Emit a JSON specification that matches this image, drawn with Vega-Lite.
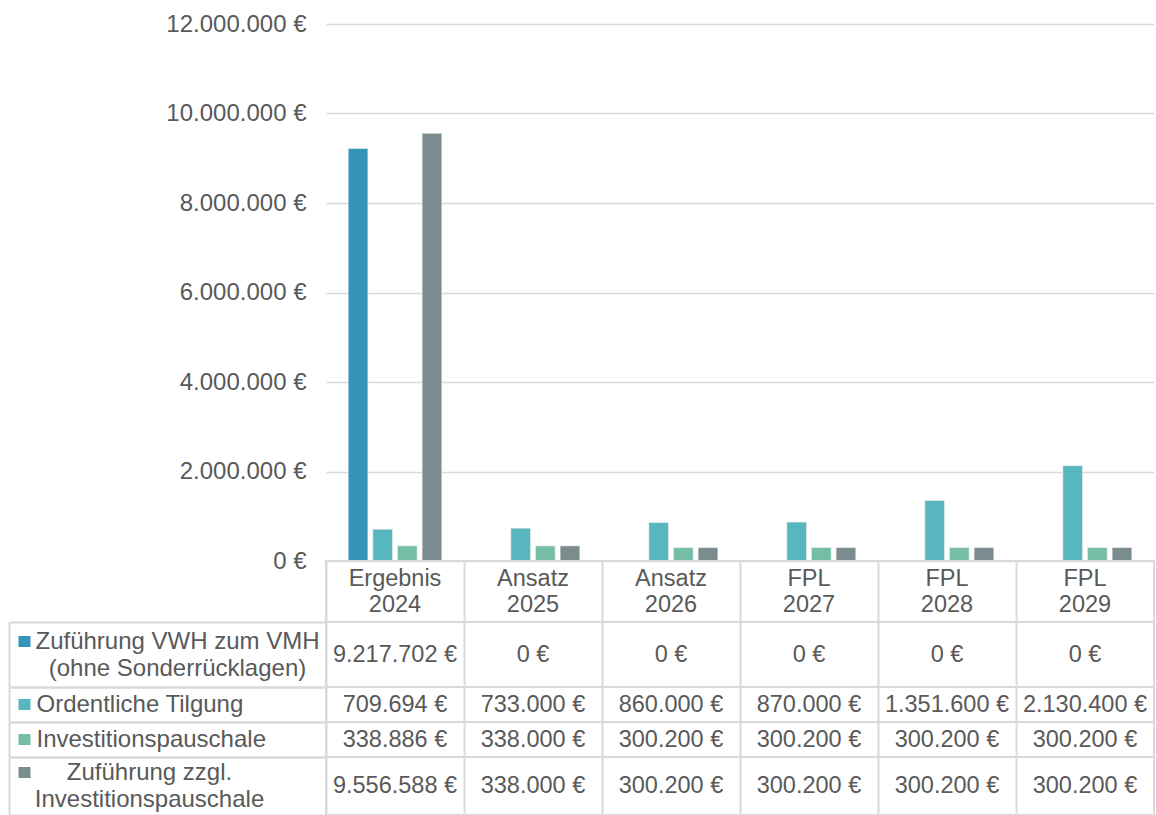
{
  "$schema": "https://vega.github.io/schema/vega-lite/v6.json",
  "padding": {"left": 2, "top": 12, "right": 0, "bottom": 0},
  "bounds": "flush",
  "spacing": 0,
  "data": {"values": [
    {"cat": "Ergebnis 2024", "series": "Zuführung VWH zum VMH (ohne Sonderrücklagen)", "value": 9217702},
    {"cat": "Ansatz 2025", "series": "Zuführung VWH zum VMH (ohne Sonderrücklagen)", "value": 0},
    {"cat": "Ansatz 2026", "series": "Zuführung VWH zum VMH (ohne Sonderrücklagen)", "value": 0},
    {"cat": "FPL 2027", "series": "Zuführung VWH zum VMH (ohne Sonderrücklagen)", "value": 0},
    {"cat": "FPL 2028", "series": "Zuführung VWH zum VMH (ohne Sonderrücklagen)", "value": 0},
    {"cat": "FPL 2029", "series": "Zuführung VWH zum VMH (ohne Sonderrücklagen)", "value": 0},
    {"cat": "Ergebnis 2024", "series": "Ordentliche Tilgung", "value": 709694},
    {"cat": "Ansatz 2025", "series": "Ordentliche Tilgung", "value": 733000},
    {"cat": "Ansatz 2026", "series": "Ordentliche Tilgung", "value": 860000},
    {"cat": "FPL 2027", "series": "Ordentliche Tilgung", "value": 870000},
    {"cat": "FPL 2028", "series": "Ordentliche Tilgung", "value": 1351600},
    {"cat": "FPL 2029", "series": "Ordentliche Tilgung", "value": 2130400},
    {"cat": "Ergebnis 2024", "series": "Investitionspauschale", "value": 338886},
    {"cat": "Ansatz 2025", "series": "Investitionspauschale", "value": 338000},
    {"cat": "Ansatz 2026", "series": "Investitionspauschale", "value": 300200},
    {"cat": "FPL 2027", "series": "Investitionspauschale", "value": 300200},
    {"cat": "FPL 2028", "series": "Investitionspauschale", "value": 300200},
    {"cat": "FPL 2029", "series": "Investitionspauschale", "value": 300200},
    {"cat": "Ergebnis 2024", "series": "Zuführung zzgl. Investitionspauschale", "value": 9556588},
    {"cat": "Ansatz 2025", "series": "Zuführung zzgl. Investitionspauschale", "value": 338000},
    {"cat": "Ansatz 2026", "series": "Zuführung zzgl. Investitionspauschale", "value": 300200},
    {"cat": "FPL 2027", "series": "Zuführung zzgl. Investitionspauschale", "value": 300200},
    {"cat": "FPL 2028", "series": "Zuführung zzgl. Investitionspauschale", "value": 300200},
    {"cat": "FPL 2029", "series": "Zuführung zzgl. Investitionspauschale", "value": 300200}
  ]},
  "vconcat": [
    {
      "width": 828, "height": 537,
      "view": {"stroke": null},
      "mark": {"type": "bar", "stroke": "#f2f2f2", "strokeWidth": 0.6},
      "encoding": {
        "x": {"field": "cat", "type": "nominal", "sort": ["Ergebnis 2024", "Ansatz 2025", "Ansatz 2026", "FPL 2027", "FPL 2028", "FPL 2029"], "scale": {"paddingInner": 0, "paddingOuter": 0}, "axis": null},
        "xOffset": {"field": "series", "type": "nominal", "sort": ["Zuführung VWH zum VMH (ohne Sonderrücklagen)", "Ordentliche Tilgung", "Investitionspauschale", "Zuführung zzgl. Investitionspauschale"], "scale": {"paddingInner": 0.2, "paddingOuter": 0.9}},
        "y": {"field": "value", "type": "quantitative", "scale": {"domain": [0, 12000000]}, "axis": {"title": null, "values": [0, 2000000, 4000000, 6000000, 8000000, 10000000, 12000000], "format": "$,.0f", "grid": true, "gridColor": "#d9d9d9", "gridWidth": 1.5, "domain": false, "ticks": false, "labelPadding": 20}},
        "color": {"field": "series", "type": "nominal", "scale": {"domain": ["Zuführung VWH zum VMH (ohne Sonderrücklagen)", "Ordentliche Tilgung", "Investitionspauschale", "Zuführung zzgl. Investitionspauschale"], "range": ["#3494BA", "#58B6C0", "#75BDA7", "#7A8C8E"]}, "legend": null}
      }
    },
    {
      "width": 828, "height": 61,
      "transform": [{"filter": {"field": "series", "equal": "Ordentliche Tilgung"}}],
      "mark": {"type": "text", "lineBreak": " ", "lineHeight": 26, "dy": -13},
      "encoding": {
        "x": {"field": "cat", "type": "nominal", "sort": ["Ergebnis 2024", "Ansatz 2025", "Ansatz 2026", "FPL 2027", "FPL 2028", "FPL 2029"], "scale": {"paddingInner": 0, "paddingOuter": 0}, "axis": {"title": null, "grid": true, "tickBand": "extent", "gridColor": "#d9d9d9", "gridWidth": 2, "labels": false, "ticks": false, "domain": false}},
        "text": {"field": "cat", "type": "nominal"}
      }
    },
    {
      "width": 828, "height": 65,
      "transform": [{"filter": {"field": "series", "equal": "Zuführung VWH zum VMH (ohne Sonderrücklagen)"}}],
      "layer": [
        {
          "mark": {"type": "text"},
          "encoding": {
            "x": {"field": "cat", "type": "nominal", "sort": ["Ergebnis 2024", "Ansatz 2025", "Ansatz 2026", "FPL 2027", "FPL 2028", "FPL 2029"], "scale": {"paddingInner": 0, "paddingOuter": 0}, "axis": {"title": null, "grid": true, "tickBand": "extent", "gridColor": "#d9d9d9", "gridWidth": 2, "labels": false, "ticks": false, "domain": false}},
            "y": {"field": "series", "type": "nominal", "scale": {"type": "band", "paddingInner": 0, "paddingOuter": 0}, "axis": {"orient": "left", "title": null, "domain": false, "ticks": true, "tickBand": "extent", "tickSize": 317, "tickColor": "#d9d9d9", "tickWidth": 2, "labelAlign": "center", "labelPadding": -168, "labelLimit": 500, "labelLineHeight": 27, "labelOffset": -13, "labelExpr": "split(replace(datum.label, ' (', '|('), '|')"}},
            "text": {"field": "value", "type": "quantitative", "format": "$,.0f"}
          }
        },
        {
          "mark": {"type": "text", "text": ""},
          "encoding": {
            "y": {"field": "series", "type": "nominal", "axis": {"orient": "left", "title": null, "offset": 317, "domain": true, "domainColor": "#d9d9d9", "domainWidth": 2, "labels": false, "ticks": true, "tickSize": -21, "tickWidth": 11, "tickColor": "#3494BA", "tickDash": [0, 9, 12, 0], "tickCap": "butt", "tickOffset": -14}}
          }
        }
      ],
      "resolve": {"axis": {"y": "independent"}}
    },
    {
      "width": 828, "height": 35,
      "transform": [{"filter": {"field": "series", "equal": "Ordentliche Tilgung"}}],
      "layer": [
        {
          "mark": {"type": "text"},
          "encoding": {
            "x": {"field": "cat", "type": "nominal", "sort": ["Ergebnis 2024", "Ansatz 2025", "Ansatz 2026", "FPL 2027", "FPL 2028", "FPL 2029"], "scale": {"paddingInner": 0, "paddingOuter": 0}, "axis": {"title": null, "grid": true, "tickBand": "extent", "gridColor": "#d9d9d9", "gridWidth": 2, "labels": false, "ticks": false, "domain": false}},
            "y": {"field": "series", "type": "nominal", "scale": {"type": "band", "paddingInner": 0, "paddingOuter": 0}, "axis": {"orient": "left", "title": null, "domain": false, "ticks": true, "tickBand": "extent", "tickSize": 317, "tickColor": "#d9d9d9", "tickWidth": 2, "labelAlign": "left", "labelPadding": -27, "labelLimit": 500}},
            "text": {"field": "value", "type": "quantitative", "format": "$,.0f"}
          }
        },
        {
          "mark": {"type": "text", "text": ""},
          "encoding": {
            "y": {"field": "series", "type": "nominal", "axis": {"orient": "left", "title": null, "offset": 317, "domain": true, "domainColor": "#d9d9d9", "domainWidth": 2, "labels": false, "ticks": true, "tickSize": -21, "tickWidth": 11, "tickColor": "#58B6C0", "tickDash": [0, 9, 12, 0], "tickCap": "butt"}}
          }
        }
      ],
      "resolve": {"axis": {"y": "independent"}}
    },
    {
      "width": 828, "height": 35,
      "transform": [{"filter": {"field": "series", "equal": "Investitionspauschale"}}],
      "layer": [
        {
          "mark": {"type": "text"},
          "encoding": {
            "x": {"field": "cat", "type": "nominal", "sort": ["Ergebnis 2024", "Ansatz 2025", "Ansatz 2026", "FPL 2027", "FPL 2028", "FPL 2029"], "scale": {"paddingInner": 0, "paddingOuter": 0}, "axis": {"title": null, "grid": true, "tickBand": "extent", "gridColor": "#d9d9d9", "gridWidth": 2, "labels": false, "ticks": false, "domain": false}},
            "y": {"field": "series", "type": "nominal", "scale": {"type": "band", "paddingInner": 0, "paddingOuter": 0}, "axis": {"orient": "left", "title": null, "domain": false, "ticks": true, "tickBand": "extent", "tickSize": 317, "tickColor": "#d9d9d9", "tickWidth": 2, "labelAlign": "left", "labelPadding": -27, "labelLimit": 500}},
            "text": {"field": "value", "type": "quantitative", "format": "$,.0f"}
          }
        },
        {
          "mark": {"type": "text", "text": ""},
          "encoding": {
            "y": {"field": "series", "type": "nominal", "axis": {"orient": "left", "title": null, "offset": 317, "domain": true, "domainColor": "#d9d9d9", "domainWidth": 2, "labels": false, "ticks": true, "tickSize": -21, "tickWidth": 11, "tickColor": "#75BDA7", "tickDash": [0, 9, 12, 0], "tickCap": "butt"}}
          }
        }
      ],
      "resolve": {"axis": {"y": "independent"}}
    },
    {
      "width": 828, "height": 58,
      "transform": [{"filter": {"field": "series", "equal": "Zuführung zzgl. Investitionspauschale"}}],
      "layer": [
        {
          "mark": {"type": "text"},
          "encoding": {
            "x": {"field": "cat", "type": "nominal", "sort": ["Ergebnis 2024", "Ansatz 2025", "Ansatz 2026", "FPL 2027", "FPL 2028", "FPL 2029"], "scale": {"paddingInner": 0, "paddingOuter": 0}, "axis": {"title": null, "grid": true, "tickBand": "extent", "gridColor": "#d9d9d9", "gridWidth": 2, "labels": false, "ticks": false, "domain": false}},
            "y": {"field": "series", "type": "nominal", "scale": {"type": "band", "paddingInner": 0, "paddingOuter": 0}, "axis": {"orient": "left", "title": null, "domain": false, "ticks": true, "tickBand": "extent", "tickSize": 317, "tickColor": "#d9d9d9", "tickWidth": 2, "labelAlign": "center", "labelPadding": -140, "labelLimit": 500, "labelLineHeight": 27, "labelOffset": -14, "labelExpr": "split(replace(datum.label, 'zzgl. ', 'zzgl.|'), '|')"}},
            "text": {"field": "value", "type": "quantitative", "format": "$,.0f"}
          }
        },
        {
          "mark": {"type": "text", "text": ""},
          "encoding": {
            "y": {"field": "series", "type": "nominal", "axis": {"orient": "left", "title": null, "offset": 317, "domain": true, "domainColor": "#d9d9d9", "domainWidth": 2, "labels": false, "ticks": true, "tickSize": -21, "tickWidth": 11, "tickColor": "#7A8C8E", "tickDash": [0, 9, 12, 0], "tickCap": "butt", "tickOffset": -14}}
          }
        }
      ],
      "resolve": {"axis": {"y": "independent"}}
    }
  ],
  "resolve": {"scale": {"x": "independent", "y": "independent"}, "axis": {"x": "independent", "y": "independent"}},
  "config": {
    "locale": {"number": {"decimal": ",", "thousands": ".", "grouping": [3], "currency": ["", " €"]}},
    "view": {"stroke": "#d9d9d9", "strokeWidth": 2},
    "axis": {"labelFont": "Liberation Sans", "labelFontSize": 24, "labelColor": "#595959"},
    "text": {"font": "Liberation Sans", "fontSize": 23.5, "color": "#595959"}
  }
}
